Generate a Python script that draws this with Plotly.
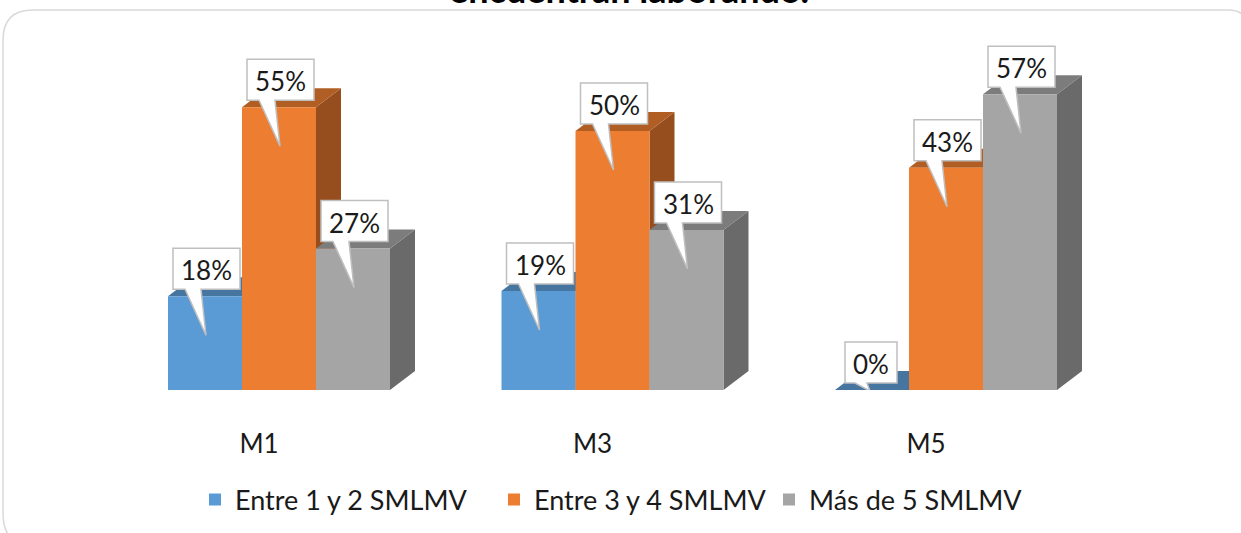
import plotly.graph_objects as go

categories = ["M1", "M3", "M5"]
series_names = ["Entre 1 y 2 SMLMV", "Entre 3 y 4 SMLMV", "Más de 5 SMLMV"]
entre_1_2 = [18.1, 19.1, 0]
entre_3_4 = [54.6, 50.0, 42.9]
mas_de_5 = [27.3, 30.9, 57.1]
series_values = [entre_1_2, entre_3_4, mas_de_5]
front = ["#5B9BD5", "#ED7D31", "#A5A5A5"]
top = ["#4675A0", "#B15E25", "#7C7C7C"]
side = ["#44719A", "#964E1E", "#6A6A6A"]
title_text = "encuentran laborando."

W, H, BASE = 1241, 533, 390
PX_X = 333.5
PX_Y = 5.18
X0 = 279
FONT = "Lato"
BAR = 74 / PX_X
DX = 25 / PX_X
DY = 19 / PX_Y
xr = [-X0 / PX_X, (W - X0) / PX_X]
yr = [0, BASE / PX_Y]

fig = go.Figure()
for name, vals, col, lw in zip(series_names, series_values, front, [254, 230, 230]):
    fig.add_trace(go.Bar(x=list(range(len(categories))), y=vals, name=name, marker=dict(color=col, line_width=0),
                         width=BAR, hoverinfo="skip", legendwidth=lw))


def px(x, y):
    return f"{x / W} {(BASE - y) / BASE}"


shapes = []
shapes.append(dict(type="path", xref="paper", yref="paper", layer="below",
    path=(f"M {px(20, 540)} Q {px(3, 540)} {px(3, 512)} L {px(3, 40)} Q {px(3, 10)} {px(33, 10)} "
          f"L {px(1228, 10)} Q {px(1250, 10)} {px(1250, 35)}"),
    line=dict(color="#D9D9D9", width=1.5), fillcolor="rgba(0,0,0,0)"))
annotations = []


def poly(pts):
    return "M " + " L ".join(f"{x} {y}" for x, y in pts) + " Z"


for g in range(len(categories)):
    for s, vals in enumerate(series_values):
        v = vals[g]
        l = g + (s - 1.5) * BAR
        r = l + BAR
        shapes.append(dict(type="path", layer="below", xref="x", yref="y", line_width=0, fillcolor=side[s],
                           path=poly([(r, 0), (r + DX, DY), (r + DX, v + DY), (r, v)])))
        shapes.append(dict(type="path", layer="below", xref="x", yref="y", line_width=0, fillcolor=top[s],
                           path=poly([(l, v), (l + DX, v + DY), (r + DX, v + DY), (r, v)])))

for g in range(len(categories)):
    for s, vals in enumerate(series_values):
        v = vals[g]
        l = g + (s - 1.5) * BAR
        txt = f"{round(v)}%"
        hw = 33.5 if len(txt) > 2 else 26
        cx = 38.5 if len(txt) > 2 else 36
        tip_y = -min(39, v * PX_Y + 1)
        b0, b1 = (17, 33) if len(txt) > 2 else (20, 32)
        tip_x = 38 if len(txt) > 2 else 35
        a, b, c, d = cx - hw, cx + hw, 48, 7
        path = (f"M {a} {c} L {b} {c} L {b} {d} L {b1} {d} L {tip_x} {tip_y} L {b0} {d} L {a} {d} Z")
        shapes.append(dict(type="path", layer="above", xsizemode="pixel", ysizemode="pixel",
                           xref="x", yref="y", xanchor=l, yanchor=v, path=path,
                           fillcolor="white", line=dict(color="#BFBFBF", width=1.5)))
        annotations.append(dict(x=l, y=v, xref="x", yref="y", text=txt, showarrow=False, xanchor="center", yanchor="middle",
                                xshift=cx, yshift=26, font=dict(family=FONT, size=26, color="#1a1a1a")))

annotations.append(dict(x=629 / W, y=1, xref="paper", yref="paper", xanchor="center", yanchor="bottom", yshift=-13,
                        text=f"<b>{title_text}</b>", showarrow=False, font=dict(family=FONT, size=36, color="black")))

fig.update_layout(
    width=W, height=H, autosize=False, barmode="group", bargap=1 - 3 * 74 / PX_X, bargroupgap=0,
    margin=dict(l=0, r=0, t=0, b=H - BASE, autoexpand=False),
    paper_bgcolor="white", plot_bgcolor="rgba(0,0,0,0)",
    xaxis=dict(range=xr, tickmode="array", tickvals=list(range(len(categories))), ticktext=categories,
               ticks="", showgrid=False, zeroline=False, showline=False, ticklabelstandoff=36, ticklabelshift=-20,
               tickfont=dict(family=FONT, size=26, color="#1a1a1a")),
    yaxis=dict(range=yr, visible=False, showgrid=False, zeroline=False),
    showlegend=True,
    legend=dict(orientation="h", x=(195) / W, xanchor="left", y=-(500 - BASE) / BASE, yanchor="middle",
                font=dict(family=FONT, size=27, color="#1a1a1a"), bgcolor="rgba(0,0,0,0)", traceorder="normal"),
    shapes=shapes, annotations=annotations,
)
fig.write_html("out.html", config={"displayModeBar": False},
               post_script="document.body.style.margin='0';document.body.style.overflow='hidden';")
